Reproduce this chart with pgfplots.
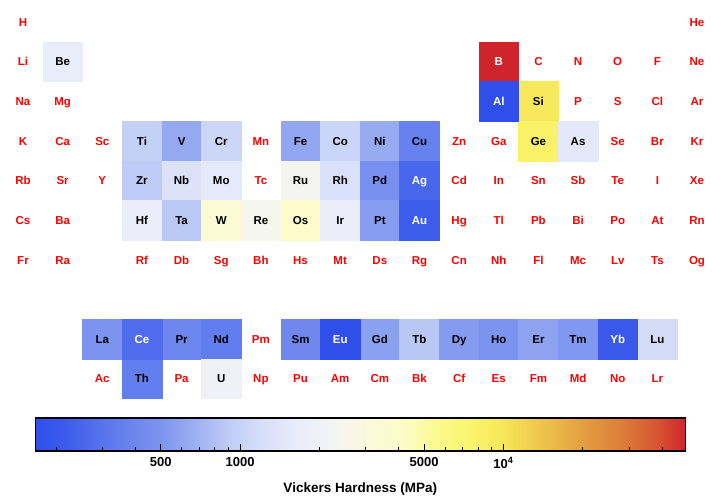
\documentclass[border=0pt]{standalone}
\usepackage{pgfplots}
\usepackage{pgfplotstable}
\pgfplotsset{compat=1.18}
\usepackage{fontspec}
\setmainfont{Liberation Sans}

% elements with a hardness value: column, row, Vickers hardness (MPa)
\pgfplotstableread{
x y h s
2 2 1670 Be
14 3 9630 Si
14 4 8000 Ge
15 4 1510 As
4 4 970 Ti
5 4 628 V
6 4 1060 Cr
8 4 608 Fe
9 4 1043 Co
10 4 638 Ni
11 4 369 Cu
4 5 903 Zr
5 5 1320 Nb
6 5 1530 Mo
8 5 2298 Ru
9 5 1246 Rh
10 5 461 Pd
4 6 1760 Hf
5 6 873 Ta
6 6 3430 W
7 6 2450 Re
8 6 3920 Os
9 6 1760 Ir
10 6 549 Pt
3 9 491 La
5 9 400 Pr
6 9 343 Nd
8 9 412 Sm
10 9 570 Gd
11 9 863 Tb
12 9 540 Dy
13 9 481 Ho
14 9 589 Er
15 9 520 Tm
17 9 1160 Lu
4 10 350 Th
6 10 1960 U
}\darktext
\pgfplotstableread{
x y h s
13 2 49000 B
13 3 167 Al
11 5 251 Ag
11 6 216 Au
4 9 270 Ce
9 9 167 Eu
16 9 206 Yb
}\lighttext
% elements without a value
\pgfplotstableread{
x y s
1 1 H
18 1 He
1 2 Li
14 2 C
15 2 N
16 2 O
17 2 F
18 2 Ne
1 3 Na
2 3 Mg
15 3 P
16 3 S
17 3 Cl
18 3 Ar
1 4 K
2 4 Ca
3 4 Sc
7 4 Mn
12 4 Zn
13 4 Ga
16 4 Se
17 4 Br
18 4 Kr
1 5 Rb
2 5 Sr
3 5 Y
7 5 Tc
12 5 Cd
13 5 In
14 5 Sn
15 5 Sb
16 5 Te
17 5 I
18 5 Xe
1 6 Cs
2 6 Ba
12 6 Hg
13 6 Tl
14 6 Pb
15 6 Bi
16 6 Po
17 6 At
18 6 Rn
1 7 Fr
2 7 Ra
4 7 Rf
5 7 Db
6 7 Sg
7 7 Bh
8 7 Hs
9 7 Mt
10 7 Ds
11 7 Rg
12 7 Cn
13 7 Nh
14 7 Fl
15 7 Mc
16 7 Lv
17 7 Ts
18 7 Og
7 9 Pm
3 10 Ac
5 10 Pa
7 10 Np
8 10 Pu
9 10 Am
10 10 Cm
11 10 Bk
12 10 Cf
13 10 Es
14 10 Fm
15 10 Md
16 10 No
17 10 Lr
}\nodata

\pgfplotsset{
 sym/.style={only marks, mark=none, point meta=explicit symbolic,
  nodes near coords, nodes near coords align={center},
  every node near coord/.append style={text=#1, anchor=center,
   font=\bfseries\fontsize{11.5}{12}\selectfont, inner sep=0pt,
   text height=8.3pt, text depth=0pt}},
 cell/.style={scatter, only marks, mark=square*, mark size=19.83pt,
  scatter/use mapped color={draw=mapped color, fill=mapped color},
  point meta={log10(\thisrow{h})}},
}

\begin{document}
\begin{tikzpicture}
\useasboundingbox (0,0) rectangle (720pt,496pt);
\begin{axis}[
at={(0pt,496pt)}, anchor=north west,
scale only axis, width=720pt, height=402.6pt,
xmin=0.42, xmax=18.58, ymin=0.445, ymax=10.6,
y dir=reverse, hide axis, clip=false,
colormap={tempmap}{
 rgb255(0pt)=(48,78,234);
 rgb255(5pt)=(62,93,235);
 rgb255(10pt)=(85,115,237);
 rgb255(15pt)=(108,133,238);
 rgb255(20pt)=(128,152,239);
 rgb255(25pt)=(160,178,242);
 rgb255(30pt)=(192,205,246);
 rgb255(35pt)=(215,224,249);
 rgb255(40pt)=(232,236,250);
 rgb255(46pt)=(244,245,242);
 rgb255(53pt)=(252,250,212);
 rgb255(57pt)=(253,251,195);
 rgb255(62pt)=(251,250,140);
 rgb255(66pt)=(250,247,112);
 rgb255(72pt)=(248,230,90);
 rgb255(78pt)=(238,195,75);
 rgb255(84pt)=(228,160,65);
 rgb255(90pt)=(222,126,58);
 rgb255(96pt)=(215,82,50);
 rgb255(100pt)=(208,36,44)
},
point meta min=2.22272, point meta max=4.69020,
colorbar horizontal,
colorbar/width=33pt,
colorbar style={
 at={(0.049,-0.0383)}, anchor=north west,
 scale only axis, width=650pt, height=33pt,
 xtick={2.69897,3,3.69897,4},
 xticklabels={500,1000,5000,10\textsuperscript{4}},
 minor xtick={2.30103,2.47712,2.60206,2.77815,2.84510,2.90309,2.95424,3.30103,3.47712,3.60206,3.77815,3.84510,3.90309,3.95424,4.30103,4.47712,4.60206},
 xtick pos=bottom, xticklabel pos=bottom,
 xtick align=inside,
 major tick length=7.3pt, minor tick length=4.3pt,
 every tick/.style={black, line width=0.8pt},
 axis line style={line width=1.2pt},
 tick label style={font=\bfseries\fontsize{13}{15}\selectfont},
 xticklabel style={yshift=-3pt},
 xlabel={Vickers Hardness (MPa)},
 xlabel style={font=\bfseries\fontsize{13.5}{15}\selectfont, yshift=-8pt},
},
]
% coloured cells
\addplot[cell] table[x=x, y=y] {\darktext};
\addplot[cell] table[x=x, y=y] {\lighttext};
% symbols
\addplot[sym=black] table[x=x, y=y, meta=s] {\darktext};
\addplot[sym=white] table[x=x, y=y, meta=s] {\lighttext};
\addplot[sym=red] table[x=x, y=y, meta=s] {\nodata};
\end{axis}
\end{tikzpicture}
\end{document}
